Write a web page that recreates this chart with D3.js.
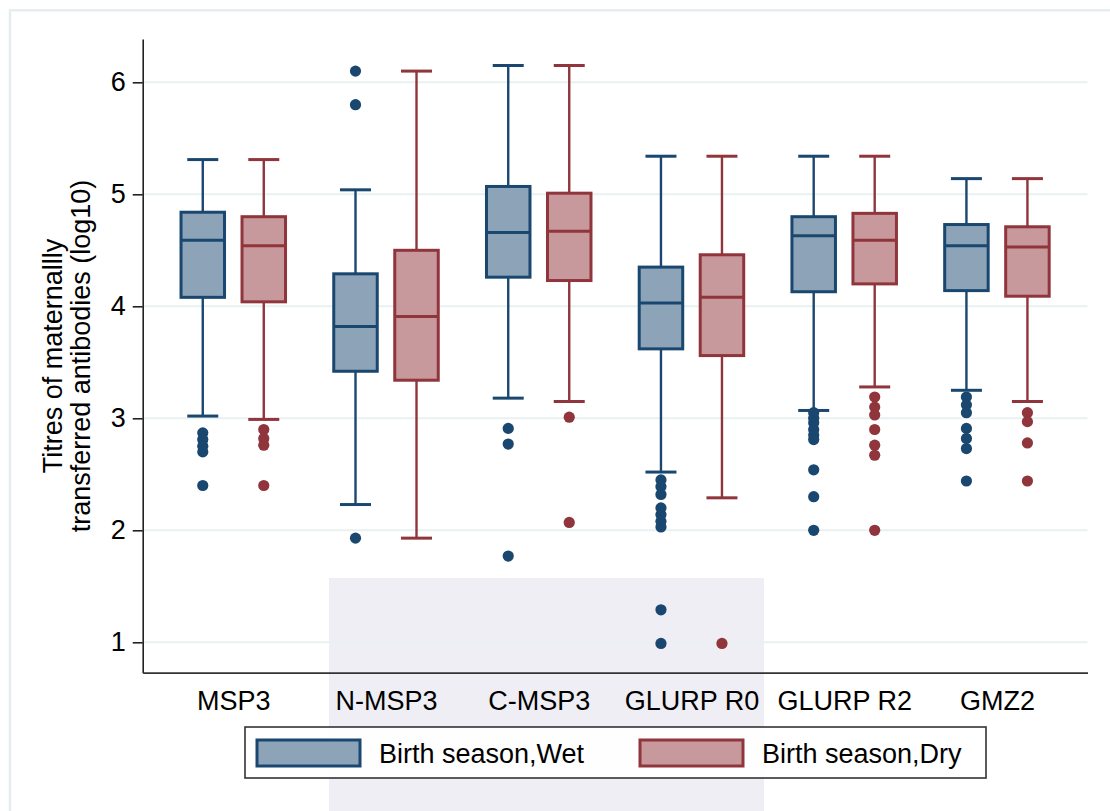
<!DOCTYPE html>
<html>
<head>
<meta charset="utf-8">
<script src="https://cdn.jsdelivr.net/npm/d3@7"></script>
<style>
  body { margin: 0; background: #fff; }
  svg { display: block; font-family: "Liberation Sans", Arial, sans-serif; }
</style>
</head>
<body>
<svg id="chart" width="1110" height="811"></svg>
<script>
// antibody titres (log10) per antigen, split by birth season
const categories = ["MSP3", "N-MSP3", "C-MSP3", "GLURP R0", "GLURP R2", "GMZ2"];
const seriesNames = ["Birth season,Wet", "Birth season,Dry"];
const yTicks = [1, 2, 3, 4, 5, 6];

const wetHigh = [5.31, 5.04, 6.15, 5.34, 5.34, 5.14];
const wetQ3   = [4.84, 4.29, 5.07, 4.35, 4.80, 4.73];
const wetMed  = [4.59, 3.82, 4.66, 4.03, 4.63, 4.54];
const wetQ1   = [4.08, 3.42, 4.26, 3.62, 4.13, 4.14];
const wetLow  = [3.02, 2.23, 3.18, 2.52, 3.07, 3.25];
const wetOut  = [
  [2.87, 2.81, 2.75, 2.70, 2.40],
  [6.10, 5.80, 1.93],
  [2.91, 2.77, 1.77],
  [2.45, 2.39, 2.32, 2.20, 2.14, 2.08, 2.03, 1.29, 0.99],
  [3.05, 3.00, 2.96, 2.90, 2.85, 2.81, 2.54, 2.30, 2.00],
  [3.19, 3.12, 3.05, 2.91, 2.82, 2.73, 2.44]
];

const dryHigh = [5.31, 6.10, 6.15, 5.34, 5.34, 5.14];
const dryQ3   = [4.80, 4.50, 5.01, 4.46, 4.83, 4.71];
const dryMed  = [4.54, 3.91, 4.67, 4.08, 4.59, 4.53];
const dryQ1   = [4.04, 3.34, 4.23, 3.56, 4.20, 4.09];
const dryLow  = [2.99, 1.93, 3.15, 2.29, 3.28, 3.15];
const dryOut  = [
  [2.90, 2.82, 2.76, 2.40],
  [],
  [3.01, 2.07],
  [0.99],
  [3.19, 3.10, 3.03, 2.90, 2.76, 2.67, 2.00],
  [3.05, 2.97, 2.78, 2.44]
];

const strokeCol = ["#1a476f", "#90353b"];
const fillCol = ["#8da3b8", "#c8999c"];

const series = [
  { name: seriesNames[0], low: wetLow, q1: wetQ1, med: wetMed, q3: wetQ3, high: wetHigh, out: wetOut },
  { name: seriesNames[1], low: dryLow, q1: dryQ1, med: dryMed, q3: dryQ3, high: dryHigh, out: dryOut }
];

const rows = [];
series.forEach((s, si) => {
  categories.forEach((c, ci) => {
    rows.push({ cat: c, si: si, name: s.name, low: s.low[ci], q1: s.q1[ci], med: s.med[ci],
                q3: s.q3[ci], high: s.high[ci], out: s.out[ci] });
  });
});

const plotLeft = 142.7, plotRight = 1087.5, plotTop = 39, plotBottom = 672.7;
const boxW = 43.5, capW = 31;

const svg = d3.select("#chart");

// outer graph region border (cropped at right/bottom)
svg.append("rect").attr("x", 10).attr("y", 10.3).attr("width", 1200).attr("height", 900)
   .attr("fill", "#fff").attr("stroke", "#e6edf0").attr("stroke-width", 2.5);

// faint background watermark block
svg.append("rect").attr("x", 329).attr("y", 578).attr("width", 435).attr("height", 240)
   .attr("fill", "#eeeef4");

const x = d3.scalePoint().domain(categories).range([plotLeft, plotRight]).padding(0.593);
const xs = d3.scalePoint().domain(seriesNames).range([-30.5, 30.5]);
const y = d3.scaleLinear().domain([1 - 30.4 / 112, 6 + 43.3 / 112]).range([plotBottom, plotTop]);

// gridlines
svg.append("g").selectAll("line").data(yTicks).join("line")
   .attr("x1", plotLeft).attr("x2", plotRight)
   .attr("y1", d => y(d)).attr("y2", d => y(d))
   .attr("stroke", "#e9f1f3").attr("stroke-width", 2);

const yAxis = svg.append("g").attr("transform", `translate(${plotLeft},0)`)
  .call(d3.axisLeft(y).tickValues(yTicks).tickSize(10).tickSizeOuter(0).tickPadding(7).tickFormat(d3.format("d")));
yAxis.selectAll("path, line").attr("stroke", "#222").attr("stroke-width", 1.6);
yAxis.selectAll("text").attr("font-size", 27).attr("fill", "#000").attr("font-family", "Liberation Sans, Arial");

const xAxis = svg.append("g").attr("transform", `translate(0,${plotBottom})`)
  .call(d3.axisBottom(x).tickSize(0).tickPadding(18));
xAxis.select("path").attr("stroke", "#333").attr("stroke-width", 1.8);
xAxis.selectAll("text").attr("font-size", 27).attr("fill", "#000").attr("font-family", "Liberation Sans, Arial");

// y title, two lines
const yt = svg.append("text").attr("transform", `translate(0,356) rotate(-90)`)
  .attr("text-anchor", "middle").attr("font-size", 27).attr("fill", "#000");
yt.append("tspan").attr("x", 0).attr("y", 62).text("Titres of maternallly");
yt.append("tspan").attr("x", 0).attr("y", 90).text("transferred antibodies (log10)");

const cx = d => x(d.cat) + xs(d.name);

const g = svg.append("g");
const box = g.selectAll("g.box").data(rows).join("g").attr("class", "box");

// whiskers
box.append("line").attr("x1", cx).attr("x2", cx)
   .attr("y1", d => y(d.high)).attr("y2", d => y(d.q3))
   .attr("stroke", d => strokeCol[d.si]).attr("stroke-width", 2.4);
box.append("line").attr("x1", cx).attr("x2", cx)
   .attr("y1", d => y(d.q1)).attr("y2", d => y(d.low))
   .attr("stroke", d => strokeCol[d.si]).attr("stroke-width", 2.4);
// caps
box.append("line").attr("x1", d => cx(d) - capW / 2).attr("x2", d => cx(d) + capW / 2)
   .attr("y1", d => y(d.high)).attr("y2", d => y(d.high))
   .attr("stroke", d => strokeCol[d.si]).attr("stroke-width", 3);
box.append("line").attr("x1", d => cx(d) - capW / 2).attr("x2", d => cx(d) + capW / 2)
   .attr("y1", d => y(d.low)).attr("y2", d => y(d.low))
   .attr("stroke", d => strokeCol[d.si]).attr("stroke-width", 3);
// box
box.append("rect").attr("x", d => cx(d) - boxW / 2).attr("width", boxW)
   .attr("y", d => y(d.q3)).attr("height", d => y(d.q1) - y(d.q3))
   .attr("fill", d => fillCol[d.si]).attr("stroke", d => strokeCol[d.si]).attr("stroke-width", 3);
// median
box.append("line").attr("x1", d => cx(d) - boxW / 2).attr("x2", d => cx(d) + boxW / 2)
   .attr("y1", d => y(d.med)).attr("y2", d => y(d.med))
   .attr("stroke", d => strokeCol[d.si]).attr("stroke-width", 3);
// outliers
box.selectAll("circle").data(d => d.out.map(v => ({ v: v, d: d }))).join("circle")
   .attr("cx", p => cx(p.d)).attr("cy", p => y(p.v)).attr("r", 5.6)
   .attr("fill", p => strokeCol[p.d.si]);

// legend
const legend = svg.append("g");
legend.append("rect").attr("x", 245).attr("y", 727).attr("width", 741).attr("height", 51)
   .attr("fill", "#fff").attr("fill-opacity", 0.9).attr("stroke", "#333").attr("stroke-width", 1.6);
const legX = d3.scalePoint().domain(seriesNames).range([257, 640]);
const item = legend.selectAll("g.item").data(seriesNames).join("g").attr("class", "item")
   .attr("transform", d => `translate(${legX(d)},740)`);
item.append("rect").attr("width", 103).attr("height", 26)
   .attr("fill", (d, i) => fillCol[i]).attr("stroke", (d, i) => strokeCol[i]).attr("stroke-width", 3);
item.append("text").attr("x", 122).attr("y", 23).attr("font-size", 27).attr("fill", "#000").text(d => d);
</script>
</body>
</html>
